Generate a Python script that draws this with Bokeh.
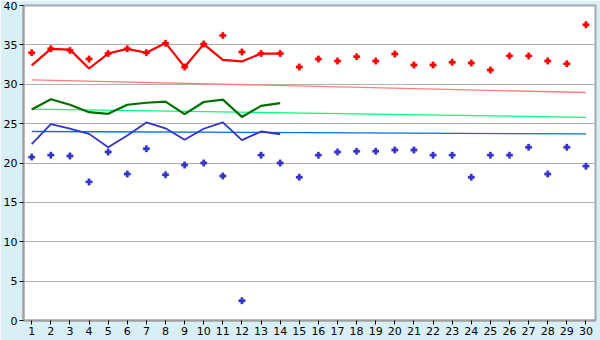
from bokeh.plotting import figure
from bokeh.models import FixedTicker, Range1d
from bokeh.embed import file_html
from bokeh.resources import INLINE

days = list(range(1, 31))
line_days = list(range(1, 15))

red_pts = [34.0, 34.5, 34.3, 33.2, 33.9, 34.5, 34.0, 35.2, 32.2, 35.1,
           36.2, 34.1, 33.9, 33.9, 32.2, 33.2, 32.95, 33.5, 32.95, 33.85,
           32.45, 32.45, 32.8, 32.7, 31.8, 33.6, 33.6, 32.95, 32.6, 37.55]
blue_pts = [20.75, 21.0, 20.9, 17.6, 21.4, 18.6, 21.8, 18.5, 19.75, 20.0,
            18.35, 2.5, 21.0, 20.0, 18.2, 21.0, 21.4, 21.5, 21.5, 21.65,
            21.65, 21.0, 21.0, 18.2, 21.0, 21.0, 22.0, 18.6, 22.0, 19.6]

red_line = [32.4, 34.5, 34.4, 32.0, 33.9, 34.5, 34.0, 35.25, 32.2, 35.1,
            33.1, 32.9, 33.9, 33.9]
green_line = [26.8, 28.1, 27.4, 26.45, 26.25, 27.4, 27.65, 27.8, 26.2, 27.75,
              28.05, 25.85, 27.25, 27.6]
blue_line = [22.4, 24.95, 24.35, 23.7, 22.0, 23.5, 25.15, 24.4, 22.95, 24.35,
             25.15, 22.9, 24.0, 23.65]

trend_days = [1, 30]
red_trend = [30.55, 28.95]
green_trend = [26.85, 25.8]
blue_trend = [24.0, 23.7]

y_ticks = [0, 5, 10, 15, 20, 25, 30, 35, 40]

BG = "#d9eff6"

p = figure(width=600, height=340, output_backend="svg", toolbar_location=None,
           x_range=Range1d(0.57, 30.5), y_range=Range1d(0, 40),
           min_border_left=21, min_border_right=5, min_border_top=5,
           min_border_bottom=20)
p.background_fill_color = "white"
p.border_fill_color = BG
p.outline_line_color = "#a8a8a8"
p.outline_line_width = 2

p.xgrid.visible = False
p.ygrid.grid_line_color = "#b0b0b0"
p.ygrid.grid_line_width = 1
p.ygrid.ticker = FixedTicker(ticks=y_ticks)

for ax in (p.xaxis[0], p.yaxis[0]):
    ax.axis_line_color = "#a0a0a0"
    ax.axis_line_width = 2
    ax.major_tick_line_color = "#000000"
    ax.major_tick_in = 0
    ax.major_tick_out = 4
    ax.minor_tick_line_color = None
    ax.major_label_text_font = "DejaVu Sans"
    ax.major_label_text_font_size = "11px"
    ax.major_label_text_color = "#000000"
    ax.major_label_standoff = 2

p.xaxis.ticker = FixedTicker(ticks=days)
p.yaxis.ticker = FixedTicker(ticks=y_ticks)

# trend lines
p.line(trend_days, red_trend, line_color="#ff8080", line_width=1.3)
p.line(trend_days, green_trend, line_color="#00ff80", line_width=1.3)
p.line(trend_days, blue_trend, line_color="#0070e0", line_width=1.3)

# daily lines
p.line(line_days, red_line, line_color="#ff0000", line_width=2.2)
p.line(line_days, green_line, line_color="#006f00", line_width=2.2)
p.line(line_days, blue_line, line_color="#3333cc", line_width=1.8)

# points
p.scatter(days, red_pts, marker="plus", size=6.5, fill_color="#ff0000",
          line_color="#ff0000", line_width=0.3)
p.scatter(days, blue_pts, marker="plus", size=6.5, fill_color="#3333cc",
          line_color="#3333cc", line_width=0.3)

open("out.html", "w").write(file_html(p, INLINE))
